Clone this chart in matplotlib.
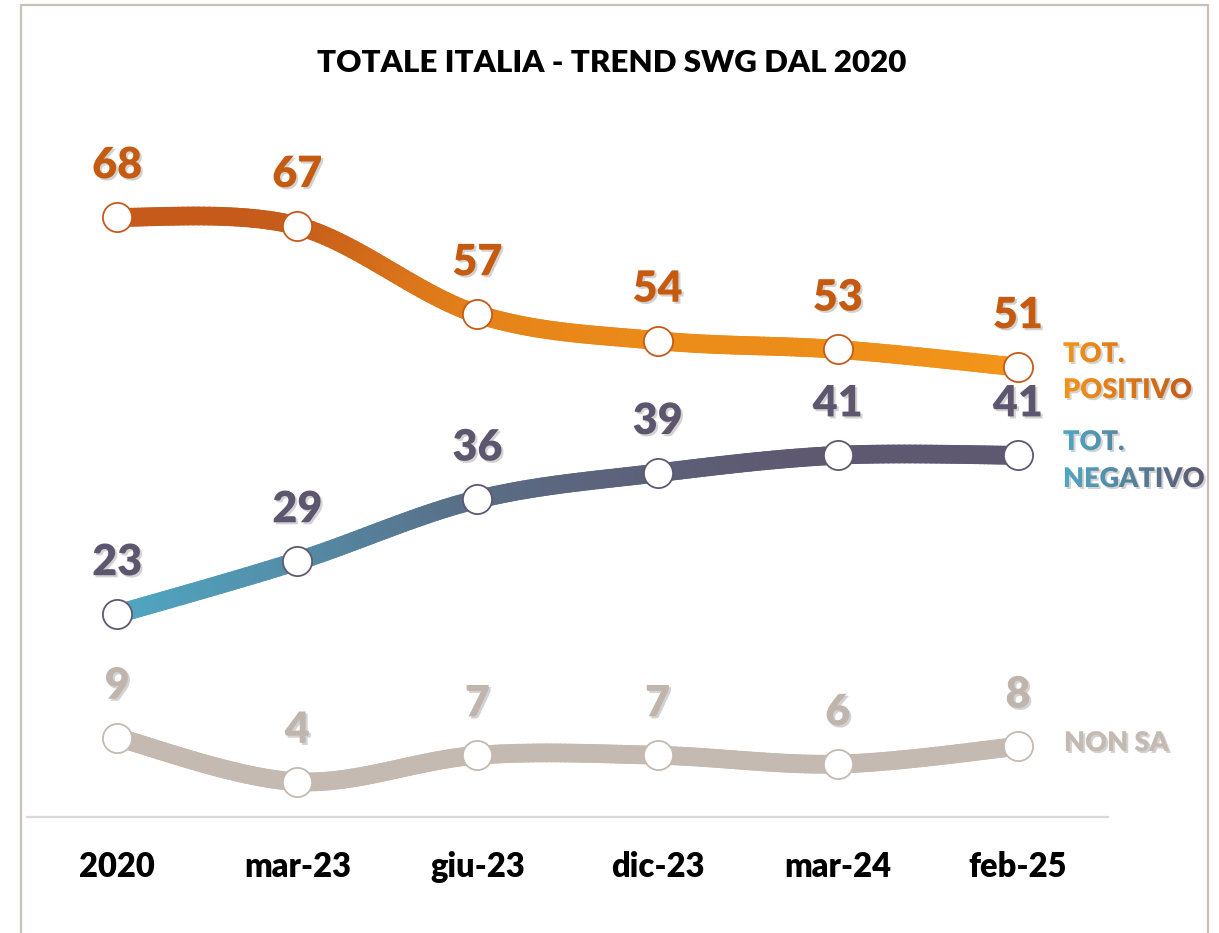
import numpy as np
import matplotlib
matplotlib.use("Agg")
import matplotlib.pyplot as plt
import matplotlib.patheffects as pe
from matplotlib.collections import LineCollection
from matplotlib.colors import LinearSegmentedColormap
from matplotlib.patches import Rectangle, PathPatch
from matplotlib.textpath import TextPath
from matplotlib.font_manager import FontProperties
from matplotlib.transforms import Affine2D

categories = ["2020", "mar-23", "giu-23", "dic-23", "mar-24", "feb-25"]
positivo = [68, 67, 57, 54, 53, 51]
negativo = [23, 29, 36, 39, 41, 41]
non_sa = [9, 4, 7, 7, 6, 8]

plt.rcParams['font.family'] = ['Lato', 'DejaVu Sans']
HEAVY = 800

W, H, DPI = 1219, 933, 100
fig = plt.figure(figsize=(W / DPI, H / DPI), dpi=DPI)

# overlay axes in pixel units (frame, side labels)
ov = fig.add_axes([0, 0, 1, 1], zorder=5)
ov.set_xlim(0, W)
ov.set_ylim(0, H)
ov.axis('off')
ov.patch.set_alpha(0)

ax = fig.add_axes([27 / W, 116 / H, 1081 / W, 794 / H])
ax.set_xlim(-0.5, 5.5)
ax.set_ylim(0, 90)
for s in ['top', 'right', 'left']:
    ax.spines[s].set_visible(False)
ax.spines['bottom'].set_color('#D9D9D9')
ax.spines['bottom'].set_linewidth(1.6)
ax.set_yticks([])
ax.set_xticks(range(len(categories)), categories)
ax.tick_params(axis='x', length=0, pad=43)
for lbl in ax.get_xticklabels():
    lbl.set_fontsize(23.5)
    lbl.set_fontweight(HEAVY)
    lbl.set_va('baseline')


def smooth(xs, ys, n=40):
    # bezier through the points, like excel's smoothed line
    p = np.column_stack([xs, ys]).astype(float)
    ext = np.vstack([p[0], p, p[-1]])
    out = []
    for i in range(len(p) - 1):
        p0, p1, p2, p3 = ext[i], ext[i + 1], ext[i + 2], ext[i + 3]
        c1 = p1 + (p2 - p0) / 6
        c2 = p2 - (p3 - p1) / 6
        t = np.linspace(0, 1, n)[:, None]
        seg = (1 - t) ** 3 * p1 + 3 * (1 - t) ** 2 * t * c1 + 3 * (1 - t) * t ** 2 * c2 + t ** 3 * p2
        out.append(seg if i == 0 else seg[1:])
    return np.vstack(out)


def grad_line(xs, ys, cmap, lw=13.5):
    pts = smooth(xs, ys)
    segs = np.stack([pts[:-1], pts[1:]], axis=1)
    mid = (pts[:-1, 1] + pts[1:, 1]) / 2
    lo, hi = min(ys), max(ys)
    t = np.clip((mid - lo) / (hi - lo), 0, 1)
    lc = LineCollection(segs, colors=cmap(t), linewidths=lw, capstyle='round', zorder=2)
    ax.add_collection(lc)


pos_cmap = LinearSegmentedColormap.from_list('pos', ['#F39519', '#C55A1A'])
neg_cmap = LinearSegmentedColormap.from_list('neg', ['#4FA8C4', '#5E5870'])
ns_cmap = LinearSegmentedColormap.from_list('ns', ['#C4BAB1', '#C4BAB1'])

x = np.arange(len(categories))
series = [
    (positivo, pos_cmap, '#C55A1A', '#C55A11'),
    (negativo, neg_cmap, '#5E5870', '#5D566E'),
    (non_sa, ns_cmap, '#C4BAB1', '#BFB5AC'),
]
shadow = [pe.withSimplePatchShadow(offset=(1.5, -1.5), shadow_rgbFace='#7f7f7f', alpha=0.35)]
for vals, cmap, edge, txt in series:
    grad_line(x, vals, cmap)
    ax.plot(x, vals, 'o', ms=21, mfc='white', mec=edge, mew=1.3, zorder=3)
    for xi, v in zip(x, vals):
        ax.annotate(str(v), (xi, v), xytext=(0, 28), textcoords='offset points',
                    ha='center', va='baseline', fontsize=31, fontweight=HEAVY,
                    color=txt, path_effects=shadow, zorder=4)

fig.text(612 / W, 1 - 72 / H, "TOTALE ITALIA - TREND SWG DAL 2020", ha='center',
         va='baseline', fontsize=22.5, fontweight=HEAVY, color='black')

# frame around the chart
ov.add_patch(Rectangle((21, -20), 1187, H - 5 + 20, fill=False, ec='#C9C0B8', lw=1.6))

fp = FontProperties(family='Lato', weight=HEAVY)


def grad_text(lines, x0, baselines, size, c_left, c_right):
    scale = DPI / 72
    paths = []
    for s, yb in zip(lines, baselines):
        tp = TextPath((0, 0), s, size=size, prop=fp)
        paths.append((tp, yb))
    width = max(tp.get_extents().x1 for tp, _ in paths) * scale
    cm = LinearSegmentedColormap.from_list('g', [c_left, c_right])
    grad = np.linspace(0, 1, 256)[None, :]
    for tp, yb in paths:
        yb = H - yb
        sh = PathPatch(tp, fc='#7f7f7f', ec='none', alpha=0.35,
                       transform=Affine2D().scale(scale).translate(x0 + 2, yb - 2) + ov.transData)
        ov.add_patch(sh)
        clip = PathPatch(tp, fc='none', ec='none',
                         transform=Affine2D().scale(scale).translate(x0, yb) + ov.transData)
        ov.add_patch(clip)
        im = ov.imshow(grad, cmap=cm, extent=(x0, x0 + width, yb - size * scale, yb + size * scale),
                       aspect='auto', interpolation='bilinear', zorder=6)
        im.set_clip_path(clip)
    ov.set_xlim(0, W)
    ov.set_ylim(0, H)


grad_text(["TOT.", "POSITIVO"], 1063, [362, 398], 19.5, '#F39519', '#C55A1A')
grad_text(["TOT.", "NEGATIVO"], 1063, [450, 487], 19.5, '#4FA8C4', '#5E5870')
grad_text(["NON SA"], 1064, [751], 19.5, '#C4BAB1', '#C4BAB1')

fig.savefig('out.png', dpi=DPI)
